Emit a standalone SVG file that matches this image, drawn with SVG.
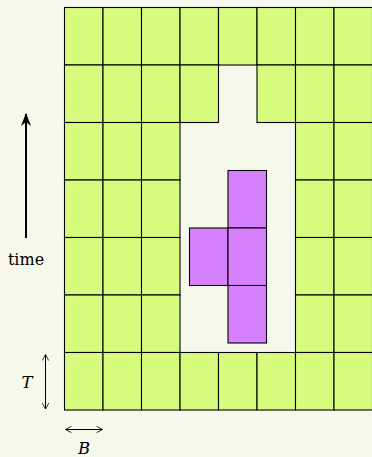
<svg xmlns="http://www.w3.org/2000/svg" width="372" height="457" viewBox="0 0 372 457">
<style>
.g{fill:#d6fb7d;stroke:#000;stroke-width:1.1}
.p{fill:#d780fd;stroke:#000;stroke-width:1.1}
.t{font-family:"DejaVu Serif","Liberation Serif",serif;font-size:16px;fill:#000}
.ti{font-family:"DejaVu Serif","Liberation Serif",serif;font-size:16.5px;font-style:italic;fill:#000}
.a{stroke:#000;fill:none}
</style>
<defs>
<marker id="fh" viewBox="0 0 13 10" refX="12" refY="5" markerWidth="13" markerHeight="10" orient="auto" markerUnits="userSpaceOnUse">
<path d="M0,0 L13,5 L0,10 L4,5 Z" fill="#000"/>
</marker>
<marker id="oh" viewBox="0 0 10 10" refX="9.5" refY="5" markerWidth="8" markerHeight="8" orient="auto-start-reverse" markerUnits="userSpaceOnUse">
<path d="M2,1 L9.5,5 L2,9" fill="none" stroke="#000" stroke-width="1"/>
</marker>
</defs>
<rect width="372" height="457" fill="#f5f8ea"/>
<g id="grid">
<!-- row 0 -->
<rect class="g" x="64.5" y="7.5" width="38.5" height="57.5"/>
<rect class="g" x="103" y="7.5" width="38.5" height="57.5"/>
<rect class="g" x="141.5" y="7.5" width="38.5" height="57.5"/>
<rect class="g" x="180" y="7.5" width="38.5" height="57.5"/>
<rect class="g" x="218.5" y="7.5" width="38.5" height="57.5"/>
<rect class="g" x="257" y="7.5" width="38.5" height="57.5"/>
<rect class="g" x="295.5" y="7.5" width="38.5" height="57.5"/>
<rect class="g" x="334" y="7.5" width="38.5" height="57.5"/>
<!-- row 1 -->
<rect class="g" x="64.5" y="65" width="38.5" height="57.5"/>
<rect class="g" x="103" y="65" width="38.5" height="57.5"/>
<rect class="g" x="141.5" y="65" width="38.5" height="57.5"/>
<rect class="g" x="180" y="65" width="38.5" height="57.5"/>
<rect class="g" x="257" y="65" width="38.5" height="57.5"/>
<rect class="g" x="295.5" y="65" width="38.5" height="57.5"/>
<rect class="g" x="334" y="65" width="38.5" height="57.5"/>
<!-- rows 2-5 -->
<rect class="g" x="64.5" y="122.5" width="38.5" height="57.5"/>
<rect class="g" x="103" y="122.5" width="38.5" height="57.5"/>
<rect class="g" x="141.5" y="122.5" width="38.5" height="57.5"/>
<rect class="g" x="295.5" y="122.5" width="38.5" height="57.5"/>
<rect class="g" x="334" y="122.5" width="38.5" height="57.5"/>
<rect class="g" x="64.5" y="180" width="38.5" height="57.5"/>
<rect class="g" x="103" y="180" width="38.5" height="57.5"/>
<rect class="g" x="141.5" y="180" width="38.5" height="57.5"/>
<rect class="g" x="295.5" y="180" width="38.5" height="57.5"/>
<rect class="g" x="334" y="180" width="38.5" height="57.5"/>
<rect class="g" x="64.5" y="237.5" width="38.5" height="57.5"/>
<rect class="g" x="103" y="237.5" width="38.5" height="57.5"/>
<rect class="g" x="141.5" y="237.5" width="38.5" height="57.5"/>
<rect class="g" x="295.5" y="237.5" width="38.5" height="57.5"/>
<rect class="g" x="334" y="237.5" width="38.5" height="57.5"/>
<rect class="g" x="64.5" y="295" width="38.5" height="57.5"/>
<rect class="g" x="103" y="295" width="38.5" height="57.5"/>
<rect class="g" x="141.5" y="295" width="38.5" height="57.5"/>
<rect class="g" x="295.5" y="295" width="38.5" height="57.5"/>
<rect class="g" x="334" y="295" width="38.5" height="57.5"/>
<!-- row 6 -->
<rect class="g" x="64.5" y="352.5" width="38.5" height="57.5"/>
<rect class="g" x="103" y="352.5" width="38.5" height="57.5"/>
<rect class="g" x="141.5" y="352.5" width="38.5" height="57.5"/>
<rect class="g" x="180" y="352.5" width="38.5" height="57.5"/>
<rect class="g" x="218.5" y="352.5" width="38.5" height="57.5"/>
<rect class="g" x="257" y="352.5" width="38.5" height="57.5"/>
<rect class="g" x="295.5" y="352.5" width="38.5" height="57.5"/>
<rect class="g" x="334" y="352.5" width="38.5" height="57.5"/>
</g>
<g id="piece">
<rect class="p" x="228" y="170.5" width="38.5" height="57.5"/>
<rect class="p" x="189.5" y="228" width="38.5" height="57.5"/>
<rect class="p" x="228" y="228" width="38.5" height="57.5"/>
<rect class="p" x="228" y="285.5" width="38.5" height="57.5"/>
</g>
<g id="connectors">
<line class="a" x1="26" y1="238" x2="26" y2="114" stroke-width="2" marker-end="url(#fh)"/>
<line class="a" x1="45.5" y1="354.5" x2="45.5" y2="409" stroke-width="1" marker-start="url(#oh)" marker-end="url(#oh)"/>
<line class="a" x1="65.5" y1="429.5" x2="102.5" y2="429.5" stroke-width="1" marker-start="url(#oh)" marker-end="url(#oh)"/>
</g>
<g id="labels">
<text class="t" x="26" y="264.5" text-anchor="middle">time</text>
<text class="ti" x="27" y="387.5" text-anchor="middle">T</text>
<text class="ti" x="84" y="453.5" text-anchor="middle">B</text>
</g>
</svg>
